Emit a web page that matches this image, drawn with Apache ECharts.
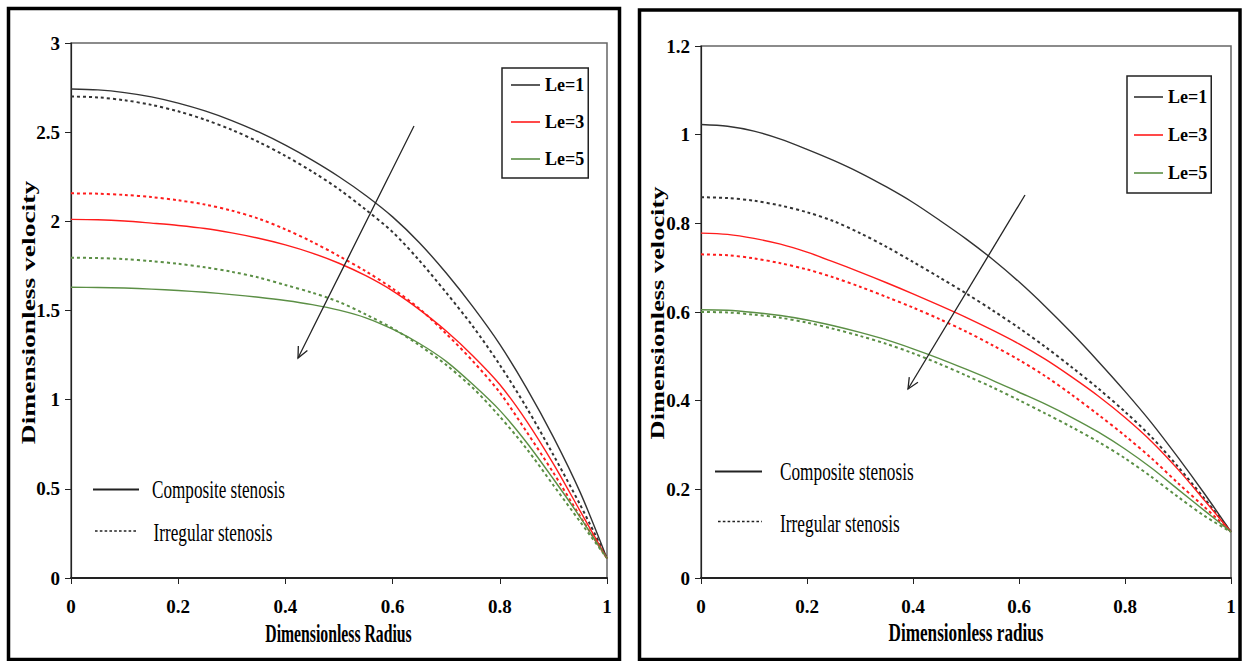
<!DOCTYPE html>
<html>
<head>
<meta charset="utf-8">
<script src="https://cdn.jsdelivr.net/npm/echarts@6/dist/echarts.min.js"></script>
<style>
html,body{margin:0;padding:0;background:#fff;overflow:hidden;}
#chart{width:1243px;height:661px;}
</style>
</head>
<body>
<div id="chart"></div>
<script>
// ---------- data ----------
const radius = [0, 0.05, 0.1, 0.15, 0.2, 0.25, 0.3, 0.35, 0.4, 0.45, 0.5,
                0.55, 0.6, 0.65, 0.7, 0.75, 0.8, 0.85, 0.9, 0.95, 1];
const xTicks = [0, 0.2, 0.4, 0.6, 0.8, 1];
const leftYTicks = [0, 0.5, 1, 1.5, 2, 2.5, 3];
const rightYTicks = [0, 0.2, 0.4, 0.6, 0.8, 1, 1.2];
const legendNames = ['Le=1', 'Le=3', 'Le=5'];

// left panel: composite stenosis (solid) and irregular stenosis (dashed)
const leftComposite1 = [2.742, 2.737, 2.722, 2.698, 2.663, 2.619, 2.565, 2.501, 2.427, 2.343, 2.25, 2.145, 2.025, 1.88, 1.71, 1.52, 1.31, 1.065, 0.79, 0.48, 0.11];
const leftIrregular1 = [2.70, 2.695, 2.679, 2.653, 2.617, 2.57, 2.513, 2.445, 2.367, 2.279, 2.18, 2.065, 1.94, 1.78, 1.60, 1.41, 1.195, 0.955, 0.69, 0.41, 0.11];
const leftComposite3 = [2.011, 2.009, 2.002, 1.99, 1.977, 1.96, 1.935, 1.905, 1.868, 1.822, 1.765, 1.695, 1.61, 1.505, 1.385, 1.245, 1.085, 0.88, 0.64, 0.375, 0.11];
const leftIrregular3 = [2.157, 2.155, 2.148, 2.136, 2.118, 2.094, 2.06, 2.015, 1.955, 1.885, 1.805, 1.72, 1.623, 1.51, 1.37, 1.215, 1.04, 0.82, 0.59, 0.345, 0.11];
const leftComposite5 = [1.630, 1.629, 1.626, 1.62, 1.612, 1.602, 1.589, 1.574, 1.556, 1.533, 1.502, 1.459, 1.395, 1.315, 1.215, 1.085, 0.94, 0.76, 0.555, 0.34, 0.11];
const leftIrregular5 = [1.796, 1.794, 1.788, 1.777, 1.762, 1.742, 1.717, 1.685, 1.643, 1.60, 1.548, 1.478, 1.40, 1.305, 1.195, 1.065, 0.905, 0.725, 0.52, 0.315, 0.11];

// right panel
const rightComposite1 = [1.023, 1.019, 1.008, 0.99, 0.967, 0.942, 0.914, 0.882, 0.847, 0.807, 0.765, 0.719, 0.668, 0.612, 0.552, 0.488, 0.421, 0.35, 0.272, 0.19, 0.104];
const rightIrregular1 = [0.859, 0.857, 0.851, 0.84, 0.825, 0.805, 0.778, 0.747, 0.713, 0.678, 0.642, 0.604, 0.564, 0.521, 0.475, 0.427, 0.375, 0.318, 0.251, 0.179, 0.104];
const rightComposite3 = [0.778, 0.775, 0.766, 0.753, 0.735, 0.713, 0.69, 0.666, 0.641, 0.615, 0.588, 0.559, 0.528, 0.493, 0.453, 0.41, 0.362, 0.308, 0.245, 0.175, 0.104];
const rightIrregular3 = [0.730, 0.728, 0.721, 0.71, 0.696, 0.678, 0.657, 0.634, 0.61, 0.584, 0.556, 0.525, 0.492, 0.455, 0.413, 0.368, 0.321, 0.27, 0.214, 0.16, 0.104];
const rightComposite5 = [0.605, 0.604, 0.599, 0.592, 0.582, 0.569, 0.554, 0.537, 0.517, 0.495, 0.471, 0.446, 0.419, 0.392, 0.362, 0.329, 0.291, 0.248, 0.2, 0.152, 0.104];
const rightIrregular5 = [0.600, 0.599, 0.594, 0.587, 0.576, 0.562, 0.546, 0.528, 0.507, 0.483, 0.457, 0.43, 0.401, 0.371, 0.34, 0.307, 0.27, 0.228, 0.183, 0.14, 0.104];

// ---------- styling ----------
const SERIF = '"Liberation Serif", "Times New Roman", serif';
const COLORS = {'Le=1': '#333333', 'Le=3': '#ff1c1c', 'Le=5': '#5b8f45'};

function pts(vals) { return radius.map((r, i) => [r, vals[i]]); }

function lineSeries(name, vals, dashed, idx) {
  return {
    type: 'line',
    name: dashed ? name + ' (irregular stenosis)' : name,
    xAxisIndex: idx, yAxisIndex: idx,
    data: pts(vals),
    symbol: 'none', showSymbol: false,
    smooth: 0.3,
    silent: true, animation: false,
    color: COLORS[name],
    lineStyle: dashed
      ? {color: COLORS[name], width: 2, type: [3, 3]}
      : {color: COLORS[name], width: 1.4, type: 'solid'},
    z: dashed ? 3 : 4
  };
}

function xAxis(idx) {
  return {
    type: 'value', gridIndex: idx, min: xTicks[0], max: xTicks[xTicks.length - 1],
    interval: xTicks[1] - xTicks[0],
    axisLine: {show: true, onZero: false, lineStyle: {color: '#222', width: 2}},
    axisTick: {show: true, inside: false, length: 6, lineStyle: {color: '#222', width: 1}},
    splitLine: {show: false},
    axisLabel: {margin: 19, color: '#000', fontFamily: SERIF, fontWeight: 'bold', fontSize: 19}
  };
}
function yAxis(idx, ticks) {
  return {
    type: 'value', gridIndex: idx, min: ticks[0], max: ticks[ticks.length - 1],
    interval: ticks[1] - ticks[0],
    axisLine: {show: true, onZero: false, lineStyle: {color: '#222', width: 1.2}},
    axisTick: {show: true, inside: false, length: 6, lineStyle: {color: '#222', width: 1}},
    splitLine: {show: false},
    axisLabel: {margin: 11, color: '#000', fontFamily: SERIF, fontWeight: 'bold', fontSize: 19}
  };
}

function arrow(x1, y1, x2, y2) {
  const dx = x1 - x2, dy = y1 - y2, len = Math.hypot(dx, dy);
  const bx = dx / len, by = dy / len, L = 12, a = 25 * Math.PI / 180;
  const c = Math.cos(a), s = Math.sin(a);
  const h1 = [x2 + L * (bx * c - by * s), y2 + L * (bx * s + by * c)];
  const h2 = [x2 + L * (bx * c + by * s), y2 + L * (-bx * s + by * c)];
  const st = {stroke: '#222', lineWidth: 1.3, fill: 'none'};
  return [
    {type: 'line', shape: {x1: x1, y1: y1, x2: x2, y2: y2}, style: st, silent: true, z: 10},
    {type: 'polyline', shape: {points: [h1, [x2, y2], h2]}, style: st, silent: true, z: 10}
  ];
}

function keyItem(x1, x2, y, dashed, tx, ty, text, sx) {
  return [
    {type: 'line', shape: {x1: x1, y1: y, x2: x2, y2: y},
     style: {stroke: '#222', lineWidth: dashed ? 1.3 : 1.8, lineDash: dashed ? [2.6, 2.2] : null}, silent: true, z: 10},
    {type: 'text', x: tx, y: ty, scaleX: sx, silent: true, z: 10,
     style: {text: text, fill: '#000', fontFamily: SERIF, fontSize: 25, align: 'left', verticalAlign: 'middle'}}
  ];
}

function title(x, y, text, size, rot, sx, sy) {
  return {type: 'text', x: x, y: y, rotation: rot, scaleX: sx, scaleY: sy, silent: true, z: 10,
    style: {text: text, fill: '#000', fontFamily: SERIF, fontWeight: 'bold', fontSize: size,
            align: 'center', verticalAlign: 'middle'}};
}

const series = [
  lineSeries('Le=1', leftComposite1, false, 0), lineSeries('Le=1', leftIrregular1, true, 0),
  lineSeries('Le=3', leftComposite3, false, 0), lineSeries('Le=3', leftIrregular3, true, 0),
  lineSeries('Le=5', leftComposite5, false, 0), lineSeries('Le=5', leftIrregular5, true, 0),
  lineSeries('Le=1', rightComposite1, false, 1), lineSeries('Le=1', rightIrregular1, true, 1),
  lineSeries('Le=3', rightComposite3, false, 1), lineSeries('Le=3', rightIrregular3, true, 1),
  lineSeries('Le=5', rightComposite5, false, 1), lineSeries('Le=5', rightIrregular5, true, 1)
];

const legendCommon = {
  data: legendNames.map(n => ({name: n, icon: 'rect'})), orient: 'vertical', selectedMode: false,
  itemWidth: 29, itemHeight: 1.6, borderColor: '#222', borderWidth: 1.5, backgroundColor: '#fff',
  textStyle: {fontFamily: SERIF, fontWeight: 'bold', fontSize: 18, color: '#000'}
};

const graphics = [
  {type: 'rect', shape: {x: 8.5, y: 8.5, width: 611, height: 651}, style: {fill: 'none', stroke: '#000', lineWidth: 3.5}, silent: true},
  {type: 'rect', shape: {x: 639.5, y: 10, width: 600.5, height: 649.5}, style: {fill: 'none', stroke: '#000', lineWidth: 3.5}, silent: true},
  ...arrow(414, 126, 298, 358),
  ...arrow(1025, 195, 908, 389),
  ...keyItem(93, 139, 489.5, false, 152, 490, 'Composite stenosis', 0.686),
  ...keyItem(95, 137, 531, true, 153.5, 533, 'Irregular stenosis', 0.688),
  ...keyItem(715, 762, 471.5, false, 780, 472, 'Composite stenosis', 0.69),
  ...keyItem(718, 762, 521.5, true, 780, 523.5, 'Irregular stenosis', 0.694),
  title(28.5, 312.5, 'Dimensionless velocity', 27.5, Math.PI / 2, 1, 0.71),
  title(657.5, 313, 'Dimensionless velocity', 26.4, Math.PI / 2, 1, 0.71),
  title(338.5, 633.5, 'Dimensionless Radius', 25, 0, 0.63, 1),
  title(966, 632.5, 'Dimensionless radius', 25, 0, 0.687, 1)
];

const chart = echarts.init(document.getElementById('chart'), null, {renderer: 'svg'});
chart.setOption({
  animation: false,
  backgroundColor: '#fff',
  grid: [
    {left: 71, top: 43, width: 536, height: 535, show: true, borderColor: '#666', borderWidth: 1.5,
     backgroundColor: 'transparent', containLabel: false, outerBoundsMode: 'none'},
    {left: 701, top: 46, width: 530, height: 532, show: true, borderColor: '#666', borderWidth: 1.5,
     backgroundColor: 'transparent', containLabel: false, outerBoundsMode: 'none'}
  ],
  xAxis: [xAxis(0), xAxis(1)],
  yAxis: [yAxis(0, leftYTicks), yAxis(1, rightYTicks)],
  legend: [
    Object.assign({}, legendCommon, {left: 502, top: 68, padding: [8, 4, 10, 9], itemGap: 19}),
    Object.assign({}, legendCommon, {left: 1127, top: 76, padding: [12, 4, 11, 7], itemGap: 20})
  ],
  tooltip: {show: false},
  series: series,
  graphic: {elements: graphics}
});
</script>
</body>
</html>
